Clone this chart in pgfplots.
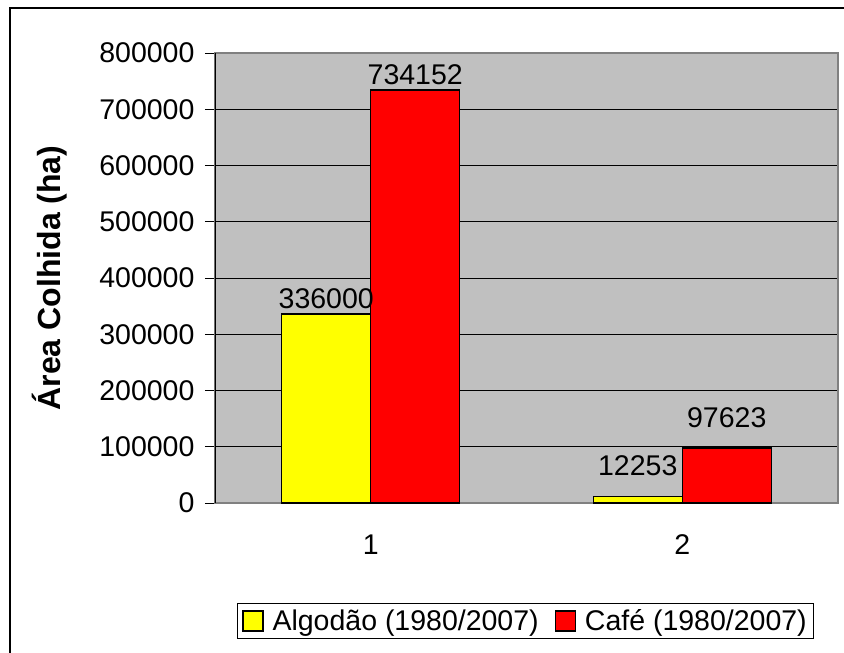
\documentclass[border=0pt]{standalone}
\usepackage{pgfplots}
\pgfplotsset{compat=1.18}
\usepackage{fontspec}
\setmainfont{Liberation Sans}
\definecolor{plotgray}{RGB}{192,192,192}
\definecolor{xlyellow}{RGB}{255,255,0}
\definecolor{xlred}{RGB}{255,0,0}
\begin{document}
\begin{tikzpicture}
\useasboundingbox (0pt,0pt) rectangle (844pt,-653pt);
\fill[white] (0pt,0pt) rectangle (844pt,-653pt);
\draw[line width=2.5pt] (10pt,-8pt) rectangle (870pt,-680pt);
\begin{axis}[
  at={(215pt,-503pt)}, anchor=south west,
  width=623pt, height=450pt, scale only axis,
  xmin=0.5, xmax=2.5, ymin=0, ymax=800000,
  ytick={0,100000,...,800000},
  xtick={1,2}, xticklabels={1,2},
  minor xtick={0.5,1.5,2.5},
  tick pos=left, tick align=outside,
  major tick length=10pt, minor tick length=10pt,
  xtick style={draw=none},
  minor x tick style={black, line width=0.8pt},
  y tick style={black, line width=0.8pt},
  scaled y ticks=false,
  /pgf/number format/assume math mode=true,
  yticklabel={\pgfmathprintnumber[fixed,precision=0,1000 sep={}]{\tick}},
  ticklabel style={font=\fontsize{28.5}{32}\selectfont},
  yticklabel style={xshift=-7pt},
  xticklabel style={yshift=-18pt},
  axis background/.style={fill=plotgray},
  axis line style={draw=gray, line width=1.2pt},
  ymajorgrids, grid style={black, line width=0.8pt},
  ybar=0pt, bar width=89pt,
  point meta=explicit symbolic,
  nodes near coords,
  nodes near coords style={font=\fontsize{28.5}{32}\selectfont, anchor=south, inner sep=1pt, yshift=4pt},
  ylabel={\textbf{Área Colhida (ha)}},
  ylabel style={at={(axis description cs:-0.265,0.5)}, anchor=center, rotate=0, font=\fontsize{32}{36}\selectfont},
  legend style={at={(0.4985,-0.262)}, anchor=center, legend columns=2, draw=black, line width=0.8pt,
    font=\fontsize{28.5}{32}\selectfont, inner xsep=5pt, inner ysep=4pt,
    /tikz/every even column/.append style={column sep=14pt}},
  legend image code/.code={\draw[#1, draw=black, line width=1.2pt] (0pt,-10pt) rectangle (20pt,10pt); \path (27pt,0pt);},
]
\addplot[fill=xlyellow, draw=black, line width=1.2pt] coordinates {(1,336000) [336000] (2,12253) [\raisebox{15pt}{12253}]};
\addplot[fill=xlred, draw=black, line width=1.2pt] coordinates {(1,734152) [734152] (2,97623) [\raisebox{15pt}{97623}]};
\draw[black, line width=1.2pt] (rel axis cs:0,0) -- (rel axis cs:0,1);
\legend{Algodão (1980/2007), Café (1980/2007)}
\end{axis}
\end{tikzpicture}
\end{document}
